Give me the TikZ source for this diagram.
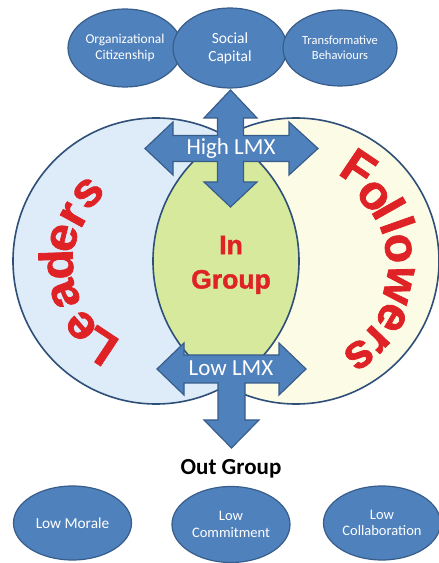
\documentclass[tikz,border=0pt]{standalone}
\usepackage{fontspec}
\setmainfont{Carlito}
\newfontfamily\wafont{Liberation Sans Bold}[FakeBold=1.6]
\usetikzlibrary{shapes.geometric}
\definecolor{ablue}{HTML}{4F81BD}
\definecolor{ablueD}{HTML}{385D8A}
\definecolor{ringc}{HTML}{2E4F78}
\definecolor{leftfill}{HTML}{DEEBF8}
\definecolor{rightfill}{HTML}{FCFCE6}
\definecolor{lensfill}{HTML}{D6E99C}
\definecolor{wred}{HTML}{DE2226}
\tikzset{
  blob/.style={ellipse, fill=ablue, draw=ablueD, line width=1.2pt, inner sep=0pt, text=white, align=center},
  arrowshape/.style={fill=ablue, draw=ablueD, line width=1.2pt, line join=miter},
  ring/.style={draw=ringc, line width=1.6pt},
  lettL/.style={inner sep=0pt, text=wred, font=\wafont\fontsize{47}{47}\selectfont, xscale=1.05},
  lettF/.style={inner sep=0pt, text=wred, font=\wafont\fontsize{48}{48}\selectfont},
  ingrp/.style={inner sep=0pt, text=wred, font=\wafont\fontsize{26.5}{26.5}\selectfont},
  lmx/.style={inner sep=0pt, text=white, font=\fontsize{23}{23}\selectfont}
}
\begin{document}
\begin{tikzpicture}[x=1pt,y=1pt]
\useasboundingbox (0,0) rectangle (439,563);
\fill[white] (0,0) rectangle (439,563);

% circles
\fill[leftfill] (156,302) circle (143);
\fill[rightfill] (296,302) circle (143);
\begin{scope}
  \clip (156,302) circle (143);
  \fill[lensfill] (296,302) circle (143);
\end{scope}
\draw[ring] (156,302) circle (143);
\draw[ring] (296,302) circle (143);

% top ellipses
\node[blob, minimum width=114, minimum height=78, font=\fontsize{13.5}{15.5}\selectfont] (oc) at (125,515) {Organizational\\Citizenship};
\node[blob, minimum width=114, minimum height=80, font=\fontsize{15.5}{18}\selectfont] (sc) at (230,515) {Social\\Capital};
\node[blob, minimum width=114, minimum height=76, font=\fontsize{12.5}{15}\selectfont] (tb) at (340,515) {Transformative\\Behaviours};

% High LMX quad arrow
\draw[arrowshape] (230.5,473) -- (257,445) -- (243.5,445) -- (243.5,427.5) -- (289,427.5) -- (289,441)
  -- (318,414.5) -- (289,388) -- (289,401.5) -- (243.5,401.5) -- (243.5,381) -- (257,381)
  -- (230.5,356) -- (204,381) -- (217.5,381) -- (217.5,401.5) -- (173,401.5) -- (173,388)
  -- (145,414.5) -- (173,441) -- (173,427.5) -- (217.5,427.5) -- (217.5,445) -- (204,445) -- cycle;
\node[lmx] (hl) at (231,415) {High LMX};

% Low LMX T arrow
\draw[arrowshape] (157,194) -- (184,220) -- (184,208) -- (279,208) -- (279,220) -- (306,194)
  -- (279,168) -- (279,180) -- (245,180) -- (245,143) -- (259,143) -- (231.5,115)
  -- (204,143) -- (218,143) -- (218,180) -- (184,180) -- (184,168) -- cycle;
\node[lmx] (ll) at (231,195) {Low LMX};

% Leaders
\begin{scope}[shift={(156,302)}]
\foreach \ch/\a/\r [count=\i] in {L/236.5/102, e/221/99, a/200/97, d/182/100, e/166/95, r/151/94, s/135/96}
  \node[rotate=\a-90, lettL] (lm\i) at (\a:\r) {\ch};
\end{scope}

% Followers
\begin{scope}[shift={(296,302)}]
\foreach \ch/\a/\r [count=\i] in {F/56/112, o/40/101, l/29.5/107, l/19.5/108, o/7/103, w/-13/105, e/-30.5/111, r/-44/112, s/-56/113}
  \node[rotate=\a-90, lettF] (fm\i) at (\a:\r) {\ch};
\end{scope}

% In Group
\node[ingrp] (in1) at (231,318) {In};
\node[ingrp] (gr1) at (231,281) {Group};

% Out group
\node[font=\bfseries\fontsize{23}{23}\selectfont, inner sep=0pt] (og) at (231,94) {Out Group};

% bottom ellipses
\node[blob, minimum width=118, minimum height=74, font=\fontsize{15.3}{17}\selectfont] (lm) at (72.5,40) {Low Morale};
\node[blob, minimum width=118, minimum height=76, font=\fontsize{14.5}{16.5}\selectfont] (lc) at (231,38.5) {Low\\Commitment};
\node[blob, minimum width=117, minimum height=74, font=\fontsize{14.5}{16.5}\selectfont] (lco) at (382,40) {Low\\Collaboration};
\end{tikzpicture}
\end{document}
